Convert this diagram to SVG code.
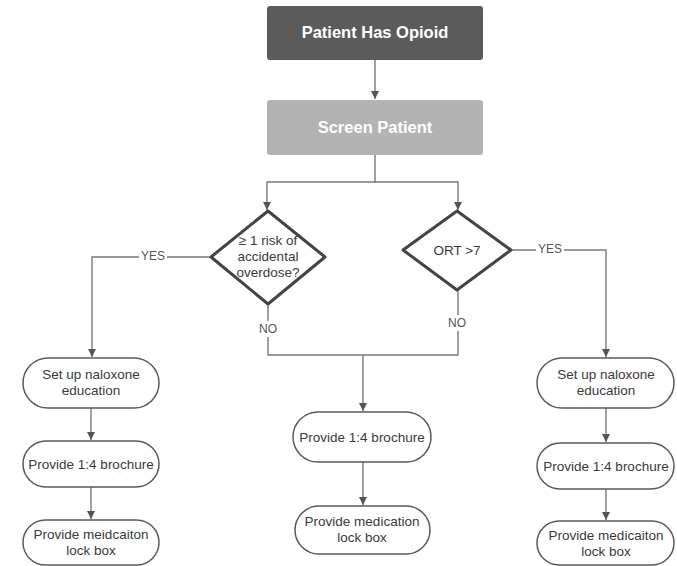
<svg xmlns="http://www.w3.org/2000/svg" width="677" height="566" viewBox="0 0 677 566">
<style>
.t{font-family:"Liberation Sans",Arial,sans-serif;font-size:13.5px;fill:#3a3a3a;text-anchor:middle}
.h{font-family:"Liberation Sans",Arial,sans-serif;font-size:16.5px;font-weight:bold;fill:#fff;text-anchor:middle}
.pill{fill:#fff;stroke:#5a5a5a;stroke-width:1.5}
.dia{fill:#fff;stroke:#444;stroke-width:3;stroke-linejoin:round}
.c{fill:none;stroke:#7a7a7a;stroke-width:1.4}
.lbl{font-family:"Liberation Sans",Arial,sans-serif;font-size:12px;fill:#555;text-anchor:middle}
</style>
<defs>
<marker id="a" markerWidth="10" markerHeight="10" refX="9" refY="5" orient="auto" markerUnits="userSpaceOnUse">
<path d="M1,1 L9,5 L1,9 Z" fill="#555"/>
</marker>
</defs>
<rect width="677" height="566" fill="#fff"/>
<g id="connectors">
<path class="c" d="M375,60 V99" marker-end="url(#a)"/>
<path class="c" d="M375,155 V182 H267 V210" marker-end="url(#a)"/>
<path class="c" d="M375,182 H458 V210" marker-end="url(#a)"/>
<path class="c" d="M211,257 H92 V357" marker-end="url(#a)"/>
<path class="c" d="M511,250 H606 V357" marker-end="url(#a)"/>
<path class="c" d="M268,304 V355 H458 V290"/>
<path class="c" d="M363,355 V411" marker-end="url(#a)"/>
<path class="c" d="M363,462 V505" marker-end="url(#a)"/>
<path class="c" d="M91,408 V440" marker-end="url(#a)"/>
<path class="c" d="M91,487 V519" marker-end="url(#a)"/>
<path class="c" d="M606,408 V442" marker-end="url(#a)"/>
<path class="c" d="M606,489 V520" marker-end="url(#a)"/>
<rect x="139" y="249" width="28" height="14" fill="#fff"/>
<text class="lbl" x="153" y="260">YES</text>
<rect x="536" y="242" width="28" height="14" fill="#fff"/>
<text class="lbl" x="550" y="253">YES</text>
<rect x="254" y="321" width="28" height="16" fill="#fff"/>
<text class="lbl" x="268" y="333">NO</text>
<rect x="444" y="315" width="28" height="16" fill="#fff"/>
<text class="lbl" x="457" y="327">NO</text>
</g>
<g id="start">
<rect x="267" y="6" width="216" height="54" rx="3" fill="#5b5b5b"/>
<text class="h" x="375" y="38">Patient Has Opioid</text>
</g>
<g id="screen">
<rect x="267" y="100" width="216" height="55" rx="3" fill="#b3b3b3"/>
<text class="h" x="375" y="133">Screen Patient</text>
</g>
<g id="risk">
<polygon class="dia" points="268,211 325,257 268,304 211,257"/>
<text class="t" x="268" y="245">≥ 1 risk of</text>
<text class="t" x="268" y="261">accidental</text>
<text class="t" x="268" y="277">overdose?</text>
</g>
<g id="ort">
<polygon class="dia" points="457,211 511,250 457,290 403,250"/>
<text class="t" x="457" y="255">ORT &gt;7</text>
</g>
<g id="l1">
<rect class="pill" x="23" y="358" width="136" height="50" rx="25"/>
<text class="t" x="91" y="379">Set up naloxone</text>
<text class="t" x="91" y="395">education</text>
</g>
<g id="l2">
<rect class="pill" x="23" y="441" width="136" height="46" rx="23"/>
<text class="t" x="91" y="469">Provide 1:4 brochure</text>
</g>
<g id="l3">
<rect class="pill" x="23" y="520" width="136" height="45" rx="22.5"/>
<text class="t" x="91" y="539">Provide meidcaiton</text>
<text class="t" x="91" y="555">lock box</text>
</g>
<g id="m1">
<rect class="pill" x="293" y="412" width="138" height="50" rx="25"/>
<text class="t" x="362" y="442">Provide 1:4 brochure</text>
</g>
<g id="m2">
<rect class="pill" x="295" y="506" width="135" height="48" rx="24"/>
<text class="t" x="362" y="526">Provide medication</text>
<text class="t" x="362" y="542">lock box</text>
</g>
<g id="r1">
<rect class="pill" x="537" y="358" width="137" height="50" rx="25"/>
<text class="t" x="606" y="379">Set up naloxone</text>
<text class="t" x="606" y="395">education</text>
</g>
<g id="r2">
<rect class="pill" x="537" y="443" width="137" height="46" rx="23"/>
<text class="t" x="606" y="471">Provide 1:4 brochure</text>
</g>
<g id="r3">
<rect class="pill" x="537" y="521" width="137" height="44" rx="22"/>
<text class="t" x="606" y="540">Provide medicaiton</text>
<text class="t" x="606" y="556">lock box</text>
</g>
</svg>
